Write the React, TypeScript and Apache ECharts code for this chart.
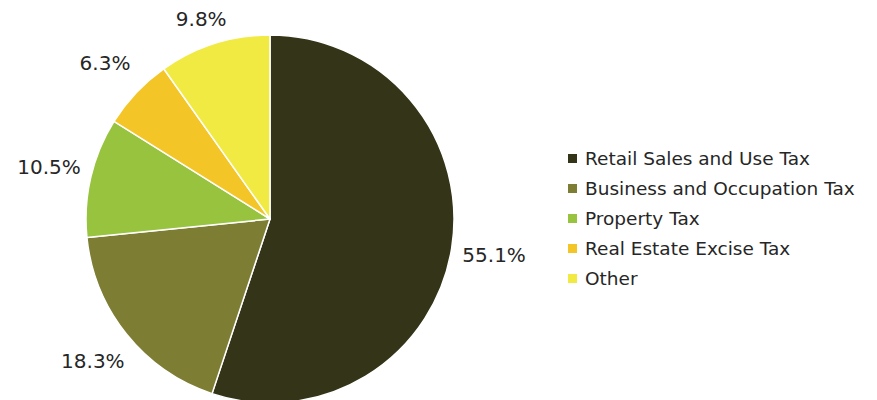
import React, { useEffect, useRef } from "react";
import * as echarts from "echarts";

const categories = [
  "Retail Sales and Use Tax",
  "Business and Occupation Tax",
  "Property Tax",
  "Real Estate Excise Tax",
  "Other",
];
const values = [55.1, 18.3, 10.5, 6.3, 9.8];
const colors = ["#343418", "#7d7e33", "#97c33e", "#f4c526", "#f1ea42"];

const FONT = "DejaVu Sans";

export default function App() {
  const ref = useRef<HTMLDivElement>(null);
  useEffect(() => {
    if (!ref.current) return;
    const chart = echarts.init(ref.current, undefined, { renderer: "svg" });
    const data = categories.map((name, i) => ({
      name,
      value: values[i],
      itemStyle: { color: colors[i] },
    }));
    chart.setOption({
      animation: false,
      legend: {
        orient: "vertical",
        left: 566,
        top: 149,
        padding: 0,
        icon: "rect",
        itemWidth: 11,
        itemHeight: 11,
        itemGap: 11,
        textStyle: { fontFamily: FONT, fontSize: 18.5, lineHeight: 19, color: "#262626", padding: [0, 0, 0, 2] },
        data: categories,
      },
      series: [
        {
          type: "pie",
          center: [270, 219],
          radius: [0, 184],
          startAngle: 90,
          clockwise: true,
          label: { show: false },
          labelLine: { show: false },
          itemStyle: { borderColor: "#ffffff", borderWidth: 1.5 },
          emphasis: { disabled: true },
          data,
        },
        {
          type: "pie",
          center: [270, 219],
          radius: [198, 250],
          startAngle: 90,
          clockwise: true,
          silent: true,
          legendHoverLink: false,
          itemStyle: { color: "transparent" },
          label: {
            show: true,
            position: "inside",
            formatter: (p: any) => p.value.toFixed(1) + "%",
            fontFamily: FONT,
            fontSize: 20,
            color: "#262626",
          },
          labelLine: { show: false },
          labelLayout: (p: any) => {
            if (p.labelRect.y < 8) {
              return { y: 20 + p.labelRect.height / 2 - 11 };
            }
            return {};
          },
          emphasis: { disabled: true },
          data: categories.map((name, i) => ({ name, value: values[i] })),
        },
      ],
    });
    return () => chart.dispose();
  }, []);
  return (
    <div
      ref={ref}
      style={{ position: "fixed", left: 0, top: 0, width: 877, height: 400, background: "#fff" }}
    />
  );
}
